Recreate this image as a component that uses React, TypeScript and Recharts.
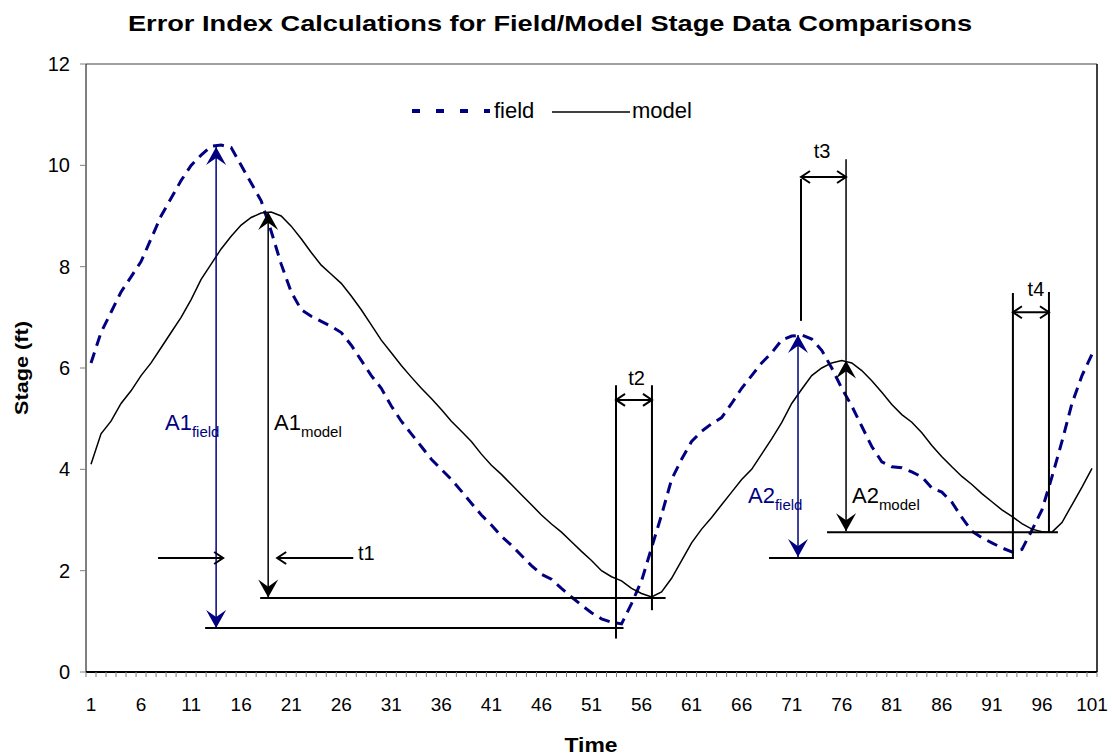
import React from 'react';
import { ComposedChart, Line, XAxis, YAxis, ReferenceLine, ReferenceDot } from 'recharts';

const FONT = '"Liberation Sans", Arial, Helvetica, sans-serif';
const NAVY = '#000080';

const field = [
  6.1, 6.7, 7.1, 7.5, 7.8, 8.1, 8.55, 9.0, 9.35, 9.7,
  10.0, 10.2, 10.38, 10.4, 10.35, 10.0, 9.65, 9.3, 8.7, 8.05,
  7.5, 7.15, 7.02, 6.92, 6.82, 6.7, 6.45, 6.15, 5.85, 5.6,
  5.25, 4.95, 4.7, 4.45, 4.2, 4.0, 3.8, 3.57, 3.33, 3.1,
  2.9, 2.68, 2.5, 2.3, 2.1, 1.93, 1.83, 1.65, 1.48, 1.32,
  1.17, 1.05, 0.98, 0.95, 1.35, 1.8, 2.45, 3.1, 3.8, 4.2,
  4.55, 4.75, 4.9, 5.02, 5.3, 5.6, 5.85, 6.1, 6.3, 6.55,
  6.63, 6.65, 6.57, 6.35, 6.0, 5.6, 5.25, 4.85, 4.45, 4.15,
  4.05, 4.03, 3.95, 3.85, 3.63, 3.55, 3.35, 3.05, 2.78, 2.65,
  2.55, 2.45, 2.37, 2.42, 2.8, 3.2, 3.85, 4.55, 5.3, 5.85,
  6.27,
];

const model = [
  4.1, 4.7, 4.95, 5.3, 5.55, 5.85, 6.1, 6.4, 6.7, 7.0,
  7.35, 7.75, 8.05, 8.35, 8.6, 8.82, 8.97, 9.06, 9.08, 9.0,
  8.8, 8.55, 8.28, 8.03, 7.85, 7.67, 7.42, 7.15, 6.85, 6.55,
  6.3, 6.05, 5.82, 5.6, 5.4, 5.18, 4.95, 4.75, 4.55, 4.3,
  4.08, 3.9, 3.7, 3.5, 3.3, 3.1, 2.92, 2.76, 2.57, 2.38,
  2.2, 2.0, 1.88, 1.8, 1.65, 1.55, 1.48, 1.58, 1.85, 2.2,
  2.55, 2.82, 3.05, 3.3, 3.55, 3.8, 4.0, 4.3, 4.6, 4.92,
  5.3, 5.58, 5.85, 6.0, 6.1, 6.15, 6.1, 5.95, 5.75, 5.52,
  5.28, 5.08, 4.93, 4.72, 4.47, 4.25, 4.05, 3.86, 3.7, 3.52,
  3.36, 3.2, 3.07, 2.93, 2.82, 2.77, 2.76, 2.95, 3.3, 3.65,
  4.02,
];

const xTickLabels = [1, 6, 11, 16, 21, 26, 31, 36, 41, 46, 51, 56, 61, 66, 71, 76, 81, 86, 91, 96, 101];
const yTicks = [0, 2, 4, 6, 8, 10, 12];

const data = field.map((f, i) => ({ t: i + 1, field: f, model: model[i] }));

// category boundaries for the tick marks
const boundaryTicks = [0, ...field].map((_, i) => i + 0.5);
const allXTicks = [...boundaryTicks, ...xTickLabels].sort((a, b) => a - b);

type Head = 'stealth' | 'open' | undefined;

// annotation segments in data coordinates
const segments: { from: [number, number]; to: [number, number]; color: string; w: number; start?: Head; end?: Head }[] = [
  // A1 field (double arrow) and its baseline
  { from: [13.5, 0.87], to: [13.5, 10.36], color: NAVY, w: 1.5, start: 'stealth', end: 'stealth' },
  { from: [12.4, 0.87], to: [54.2, 0.87], color: '#000', w: 2 },
  // A1 model
  { from: [18.7, 1.47], to: [18.7, 9.08], color: '#000', w: 1.5, start: 'stealth', end: 'stealth' },
  { from: [17.9, 1.46], to: [58.4, 1.46], color: '#000', w: 2 },
  // t1 arrows
  { from: [7.7, 2.25], to: [14.2, 2.25], color: '#000', w: 2, end: 'open' },
  { from: [27.2, 2.25], to: [19.6, 2.25], color: '#000', w: 2, end: 'open' },
  // t2
  { from: [53.45, 5.66], to: [53.45, 0.66], color: '#000', w: 2 },
  { from: [57.04, 5.66], to: [57.04, 1.22], color: '#000', w: 2 },
  { from: [53.45, 5.37], to: [57.04, 5.37], color: '#000', w: 2, start: 'open', end: 'open' },
  // t3
  { from: [71.93, 9.73], to: [71.93, 6.93], color: '#000', w: 2 },
  { from: [76.43, 10.12], to: [76.43, 6.15], color: '#000', w: 1.5 },
  { from: [71.93, 9.77], to: [76.43, 9.77], color: '#000', w: 2, start: 'open', end: 'open' },
  // A2 field
  { from: [71.63, 2.27], to: [71.63, 6.65], color: NAVY, w: 1.5, start: 'stealth', end: 'stealth' },
  { from: [68.73, 2.25], to: [93.2, 2.25], color: '#000', w: 2 },
  // A2 model
  { from: [76.43, 2.78], to: [76.43, 6.15], color: '#000', w: 1.5, start: 'stealth', end: 'stealth' },
  { from: [74.53, 2.76], to: [97.6, 2.76], color: '#000', w: 2 },
  // t4
  { from: [93.1, 7.48], to: [93.1, 2.25], color: '#000', w: 2 },
  { from: [96.7, 7.5], to: [96.7, 2.76], color: '#000', w: 2 },
  { from: [93.1, 7.1], to: [96.7, 7.1], color: '#000', w: 2, start: 'open', end: 'open' },
];

const subLabels: { x: number; y: number; main: string; sub: string; color: string }[] = [
  { x: 8.39, y: 4.77, main: 'A1', sub: 'field', color: NAVY },
  { x: 19.28, y: 4.77, main: 'A1', sub: 'model', color: '#000' },
  { x: 66.63, y: 3.33, main: 'A2', sub: 'field', color: NAVY },
  { x: 77.02, y: 3.33, main: 'A2', sub: 'model', color: '#000' },
];

const tLabels: { x: number; y: number; text: string; anchor: 'start' | 'middle' }[] = [
  { x: 27.67, y: 2.21, text: 't1', anchor: 'start' },
  { x: 55.5, y: 5.66, text: 't2', anchor: 'middle' },
  { x: 74.03, y: 10.14, text: 't3', anchor: 'middle' },
  { x: 95.4, y: 7.42, text: 't4', anchor: 'middle' },
];

function drawHead(kind: Head, tx: number, ty: number, dx: number, dy: number, color: string, key: string) {
  const nx = -dy;
  const ny = dx;
  if (kind === 'stealth') {
    const L = 18;
    const W = 10;
    const pts = [
      [tx, ty],
      [tx - dx * L + nx * W, ty - dy * L + ny * W],
      [tx - dx * L * 0.6, ty - dy * L * 0.6],
      [tx - dx * L - nx * W, ty - dy * L - ny * W],
    ];
    return <polygon key={key} points={pts.map((p) => p.join(',')).join(' ')} fill={color} stroke="none" />;
  }
  if (kind === 'open') {
    const L = 9;
    const W = 6;
    const pts = [
      [tx - dx * L + nx * W, ty - dy * L + ny * W],
      [tx, ty],
      [tx - dx * L - nx * W, ty - dy * L - ny * W],
    ];
    return <polyline key={key} points={pts.map((p) => p.join(',')).join(' ')} fill="none" stroke={color} strokeWidth={2} />;
  }
  return null;
}

function makeShape(color: string, w: number, start: Head, end: Head) {
  return (p: any) => {
    const { x1, y1, x2, y2 } = p;
    const len = Math.hypot(x2 - x1, y2 - y1) || 1;
    const dx = (x2 - x1) / len;
    const dy = (y2 - y1) / len;
    return (
      <g>
        <line x1={x1} y1={y1} x2={x2} y2={y2} stroke={color} strokeWidth={w} />
        {drawHead(end, x2, y2, dx, dy, color, 'e')}
        {drawHead(start, x1, y1, -dx, -dy, color, 's')}
      </g>
    );
  };
}

const XTick = (props: any) => {
  const { x, y, payload } = props;
  const v = payload.value;
  if (v % 1 !== 0) {
    return <line x1={x} x2={x} y1={y} y2={y + 5} stroke="#808080" strokeWidth={1} />;
  }
  return (
    <text x={x} y={y + 39} textAnchor="middle" fontSize={19} fill="#000" fontFamily={FONT}>
      {v}
    </text>
  );
};

export default function App() {
  return (
    <div style={{ position: 'absolute', left: 0, top: 0, width: 1112, height: 755, background: '#fff' }}>
      <ComposedChart
        width={1112}
        height={755}
        data={data}
        margin={{ top: 64, right: 15, bottom: 43, left: 0 }}
      >
        <XAxis
          dataKey="t"
          type="number"
          domain={[0.5, 101.5]}
          ticks={allXTicks}
          interval={0}
          tick={<XTick />}
          tickLine={false}
          tickSize={0}
          tickMargin={0}
          height={40}
          axisLine={{ stroke: '#000', strokeWidth: 2 }}
        />
        <YAxis
          type="number"
          domain={[0, 12]}
          ticks={yTicks}
          interval={0}
          width={86}
          tickSize={6}
          tickMargin={10}
          tick={{ fill: '#000', fontSize: 20, fontFamily: FONT }}
          tickLine={{ stroke: '#808080' }}
          axisLine={{ stroke: '#000' }}
        />
        <ReferenceLine y={12} stroke="#808080" strokeWidth={1.5} ifOverflow="visible" />
        <ReferenceLine x={101.5} stroke="#000" strokeWidth={1.5} ifOverflow="visible" />
        <Line
          dataKey="field"
          type="linear"
          stroke={NAVY}
          strokeWidth={3}
          strokeDasharray="11 7"
          dot={false}
          activeDot={false}
          isAnimationActive={false}
        />
        <Line
          dataKey="model"
          type="linear"
          stroke="#000"
          strokeWidth={1.5}
          dot={false}
          activeDot={false}
          isAnimationActive={false}
        />
        {segments.map((s, i) => (
          <ReferenceLine
            key={'seg' + i}
            segment={[{ x: s.from[0], y: s.from[1] }, { x: s.to[0], y: s.to[1] }]}
            ifOverflow="visible"
            stroke={s.color}
            shape={makeShape(s.color, s.w, s.start, s.end)}
          />
        ))}
        {subLabels.map((l, i) => (
          <ReferenceDot
            key={'sl' + i}
            x={l.x}
            y={l.y}
            ifOverflow="visible"
            shape={(p: any) => (
              <text x={p.cx} y={p.cy} fill={l.color} fontFamily={FONT}>
                <tspan fontSize={22}>{l.main}</tspan>
                <tspan fontSize={15} dy={7}>{l.sub}</tspan>
              </text>
            )}
          />
        ))}
        {tLabels.map((l, i) => (
          <ReferenceDot
            key={'tl' + i}
            x={l.x}
            y={l.y}
            ifOverflow="visible"
            shape={(p: any) => (
              <text x={p.cx} y={p.cy} textAnchor={l.anchor} fill="#000" fontSize={20} fontFamily={FONT}>
                {l.text}
              </text>
            )}
          />
        ))}
        <text
          x={550}
          y={31}
          textAnchor="middle"
          fontSize={22}
          fontWeight="bold"
          fill="#000"
          fontFamily={FONT}
          textLength={844}
          lengthAdjust="spacingAndGlyphs"
        >
          Error Index Calculations for Field/Model Stage Data Comparisons
        </text>
        <text
          x={28}
          y={368}
          textAnchor="middle"
          fontSize={18}
          fontWeight="bold"
          fill="#000"
          fontFamily={FONT}
          textLength={94}
          lengthAdjust="spacingAndGlyphs"
          transform="rotate(-90, 28, 368)"
        >
          Stage (ft)
        </text>
        <text
          x={591}
          y={752}
          textAnchor="middle"
          fontSize={20}
          fontWeight="bold"
          fill="#000"
          fontFamily={FONT}
          textLength={53}
          lengthAdjust="spacingAndGlyphs"
        >
          Time
        </text>
        <g>
          <line x1={412} y1={111} x2={490} y2={111} stroke={NAVY} strokeWidth={4} strokeDasharray="8 16" />
          <text x={494} y={118} fontSize={22} fill="#000" fontFamily={FONT}>field</text>
          <line x1={552} y1={112} x2={630} y2={112} stroke="#000" strokeWidth={1.5} />
          <text x={632} y={118} fontSize={22} fill="#000" fontFamily={FONT}>model</text>
        </g>
      </ComposedChart>
    </div>
  );
}
